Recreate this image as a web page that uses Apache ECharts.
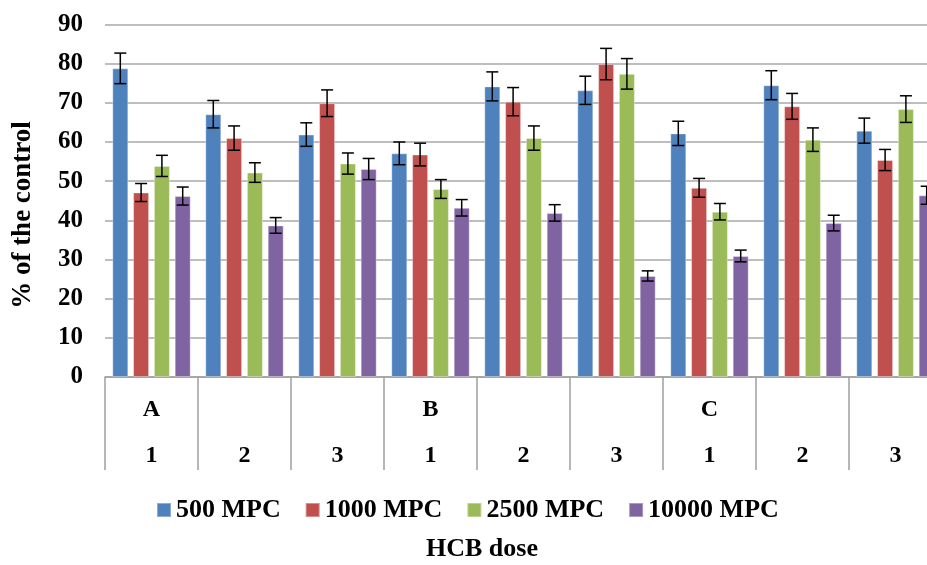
<!DOCTYPE html>
<html><head><meta charset="utf-8">
<script src="https://cdn.jsdelivr.net/npm/echarts@6/dist/echarts.min.js"></script>
<style>html,body{margin:0;padding:0;background:#fff}#c{width:927px;height:565px}</style>
</head><body><div id="c"></div>
<script>
// ---- data ----
const categories = ['1','2','3','1','2','3','1','2','3'];
const groupLabels = ['A','','','B','','','C','',''];
const seriesNames = ['500 MPC','1000 MPC','2500 MPC','10000 MPC'];
const mpc500   = [78.8, 67.1, 61.9, 57.1, 74.2, 73.2, 62.2, 74.5, 62.9];
const mpc1000  = [47.1, 61.0, 69.9, 56.8, 70.3, 79.9, 48.3, 69.1, 55.4];
const mpc2500  = [53.9, 52.2, 54.5, 48.0, 61.0, 77.4, 42.2, 60.6, 68.4];
const mpc10000 = [46.2, 38.7, 53.1, 43.2, 41.9, 25.8, 30.9, 39.3, 46.4];
const err500   = [3.9, 3.5, 3.0, 2.9, 3.7, 3.6, 3.1, 3.7, 3.2];
const err1000  = [2.3, 3.1, 3.4, 2.9, 3.6, 4.0, 2.4, 3.3, 2.7];
const err2500  = [2.7, 2.5, 2.7, 2.4, 3.1, 3.9, 2.1, 3.0, 3.4];
const err10000 = [2.3, 2.0, 2.7, 2.1, 2.1, 1.3, 1.5, 2.0, 2.3];
const yTicks = { min: 0, max: 90, interval: 10 };

// ---- style ----
const colors = ['#4F81BD', '#C0504D', '#9BBB59', '#8064A2'];
const FONT = 'Liberation Serif';
const BAR_W = 16;
const BAR_GAP = 0.3;
const values = [mpc500, mpc1000, mpc2500, mpc10000];
const errs = [err500, err1000, err2500, err10000];

const chart = echarts.init(document.getElementById('c'), null, { renderer: 'canvas' });

const barSeries = values.map((vals, i) => ({
  type: 'bar',
  name: seriesNames[i],
  data: vals,
  barWidth: BAR_W,
  barGap: (BAR_GAP * 100) + '%',
  itemStyle: { color: colors[i], borderColor: 'rgba(255,255,255,0.35)', borderWidth: 1 },
  emphasis: { disabled: true }
}));

const errSeries = values.map((vals, i) => ({
  type: 'custom',
  z: 10,
  silent: true,
  data: vals.map((v, k) => [k, v, errs[i][k]]),
  renderItem(params, api) {
    const x = api.value(0), v = api.value(1), e = api.value(2);
    const top = api.coord([x, v + e]);
    const bot = api.coord([x, v - e]);
    const off = (i - 1.5) * (BAR_W + BAR_W * BAR_GAP);
    const cx = top[0] + off, cap = 6;
    const st = { stroke: '#000', lineWidth: 1.5 };
    return { type: 'group', children: [
      { type: 'line', shape: { x1: cx, y1: top[1], x2: cx, y2: bot[1] }, style: st },
      { type: 'line', shape: { x1: cx - cap, y1: top[1], x2: cx + cap, y2: top[1] }, style: st },
      { type: 'line', shape: { x1: cx - cap, y1: bot[1], x2: cx + cap, y2: bot[1] }, style: st }
    ]};
  }
}));

chart.setOption({
  animation: false,
  backgroundColor: '#fff',
  grid: { left: 105, width: 837, top: 24.5, height: 352.5, containLabel: false, outerBoundsMode: 'none' },
  legend: {
    data: seriesNames,
    left: 151, top: 492,
    icon: 'rect', itemWidth: 14, itemHeight: 14, itemGap: 24,
    textStyle: { fontFamily: FONT, fontWeight: 'bold', fontSize: 26, color: '#000' }
  },
  xAxis: {
    type: 'category',
    data: categories,
    axisLine: { lineStyle: { color: '#a0a0a0', width: 1.5 } },
    axisTick: { show: true, interval: 0, length: 93, lineStyle: { color: '#a0a0a0', width: 1.5 } },
    axisLabel: {
      interval: 0, margin: 10, lineHeight: 46,
      fontFamily: FONT, fontWeight: 'bold', fontSize: 24, color: '#000',
      formatter: (v, idx) => (groupLabels[idx] || ' ') + '\n' + v
    }
  },
  yAxis: {
    type: 'value', min: yTicks.min, max: yTicks.max, interval: yTicks.interval,
    axisLine: { show: false }, axisTick: { show: false },
    splitLine: { lineStyle: { color: '#a8a8a8', width: 1.5 } },
    axisLabel: { margin: 22, fontFamily: FONT, fontWeight: 'bold', fontSize: 25, color: '#000' }
  },
  graphic: [
    { type: 'text', x: 23, y: 215, rotation: Math.PI / 2,
      style: { text: '% of the control', fontFamily: FONT, fontWeight: 'bold', fontSize: 27, fill: '#000', textAlign: 'center', textVerticalAlign: 'middle' } },
    { type: 'text', x: 482, y: 549,
      style: { text: 'HCB dose', fontFamily: FONT, fontWeight: 'bold', fontSize: 26, fill: '#000', textAlign: 'center', textVerticalAlign: 'middle' } }
  ],
  series: [...barSeries, ...errSeries]
});
</script>
</body></html>
